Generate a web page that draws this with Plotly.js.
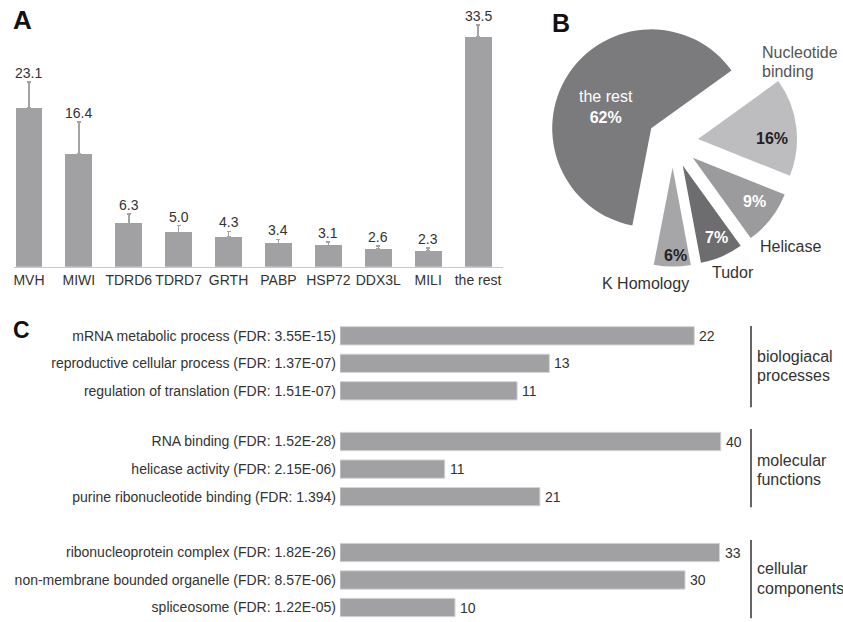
<!DOCTYPE html>
<html>
<head>
<meta charset="utf-8">
<script src="https://cdn.plot.ly/plotly-3.0.1.min.js"></script>
<style>html,body{margin:0;padding:0;background:#fff;}#chart{width:843px;height:622px;}</style>
</head>
<body>
<div id="chart"></div>
<script>
// ---------- DATA ----------
const catsA = ['MVH','MIWI','TDRD6','TDRD7','GRTH','PABP','HSP72','DDX3L','MILI','the rest'];
const valsA = [23.1,16.4,6.3,5.0,4.3,3.4,3.1,2.6,2.3,33.5];
const errA  = [3.8,4.7,1.4,1.0,0.85,0.6,0.5,0.45,0.45,1.7];

const pieLabels = ['the rest','Nucleotide binding','Helicase','Tudor','K Homology'];
const pieVals   = [62,16,9,7,6];
const pieColors = ['#7b7b7d','#bdbdbf','#9b9b9d','#6d6d6f','#a6a6a8'];

const termsBP  = ['mRNA metabolic process (FDR: 3.55E-15)','reproductive cellular process (FDR: 1.37E-07)','regulation of translation (FDR: 1.51E-07)'];
const countsBP = [22,13,11];
const termsMF  = ['RNA binding (FDR: 1.52E-28)','helicase activity (FDR: 2.15E-06)','purine ribonucleotide binding (FDR: 1.394)'];
const countsMF = [40,11,21];
const termsCC  = ['ribonucleoprotein complex (FDR: 1.82E-26)','non-membrane bounded organelle (FDR: 8.57E-06)','spliceosome (FDR: 1.22E-05)'];
const countsCC = [33,30,10];
const groupNames = ['biologiacal processes','molecular functions','cellular components'];

// ---------- helpers ----------
const W = 843, H = 622;
const px = x => x / W;
const py = y => 1 - y / H;
const FONT = 'Liberation Sans, Arial, Helvetica, sans-serif';
const TXT = '#333333';
const BAR = '#a1a1a4';

const traces = [];
// Panel A
traces.push({
  type:'bar', x:catsA, y:valsA, xaxis:'x', yaxis:'y',
  width:0.54, marker:{color:BAR, line:{width:0}},
  error_y:{type:'data', symmetric:false, array:errA, arrayminus:errA.map(()=>0),
           color:'#a3a3a3', thickness:1.5, width:2},
  hoverinfo:'skip'
});
// Panel B
traces.push({
  type:'pie', labels:pieLabels, values:pieVals, sort:false, direction:'clockwise',
  rotation:191, pull:pieVals.map(()=>0.2576),
  marker:{colors:pieColors, line:{width:0}},
  textinfo:'none', hoverinfo:'skip', showlegend:false,
  domain:{x:[px(548.2), px(797.2)], y:[py(266.6), py(17.6)]}
});
// Panel C
const groupsC = [[termsBP,countsBP],[termsMF,countsMF],[termsCC,countsCC]];
const annotations = [];
groupsC.forEach((g,i) => {
  const xa = 'x'+(i+3), ya = 'y'+(i+3);
  traces.push({
    type:'bar', orientation:'h', y:g[0], x:g[1],
    xaxis:xa, yaxis:ya, width:0.665,
    marker:{color:BAR, line:{color:'#d4d4d6', width:1}},
    hoverinfo:'skip'
  });
  g[0].forEach((t,j) => {
    annotations.push({xref:xa, yref:ya, x:g[1][j], y:t, xanchor:'left', yanchor:'middle', xshift:3,
      showarrow:false, text:String(g[1][j]), font:{family:FONT,size:14,color:TXT}});
  });
});

// Panel letters
annotations.push({xref:'paper',yref:'paper',x:px(11),y:py(20),xanchor:'left',yanchor:'middle',text:'<b>A</b>',showarrow:false,font:{family:FONT,size:26,color:'#111'}});
annotations.push({xref:'paper',yref:'paper',x:px(550),y:py(23),xanchor:'left',yanchor:'middle',text:'<b>B</b>',showarrow:false,font:{family:FONT,size:25,color:'#111'}});
annotations.push({xref:'paper',yref:'paper',x:px(11),y:py(330),xanchor:'left',yanchor:'middle',text:'<b>C</b>',showarrow:false,font:{family:FONT,size:23,color:'#111'}});
// Panel A value labels
catsA.forEach((c,i) => {
  annotations.push({xref:'x',yref:'y',x:c,y:valsA[i]+errA[i],yanchor:'bottom',showarrow:false,
    text:valsA[i].toFixed(1), font:{family:FONT,size:14,color:TXT}, borderpad:0});
});
// Panel B labels
const pieTextPos = [[606,107],[772,138],[754,201],[716,238],[675,255]];
const pieTextCol = ['#ffffff','#222222','#ffffff','#ffffff','#222222'];
pieLabels.forEach((l,i) => {
  const t = i === 0 ? l + '<br><b>' + pieVals[i] + '%</b>' : '<b>' + pieVals[i] + '%</b>';
  annotations.push({xref:'paper',yref:'paper',x:px(pieTextPos[i][0]),y:py(pieTextPos[i][1]),
    xanchor:'center',yanchor:'middle',showarrow:false,text:t,align:'center',
    font:{family:FONT,size:16,color:pieTextCol[i]}});
});
const pieOutPos = [null,[760,52.5,'left'],[790,246,'center'],[733,273,'center'],[645.5,283,'center']];
pieLabels.forEach((l,i) => {
  if (!pieOutPos[i]) return;
  const lines = i === 1 ? l.split(' ') : [l];
  lines.forEach((ln,k) => {
    annotations.push({xref:'paper',yref:'paper',x:px(pieOutPos[i][0]),y:py(pieOutPos[i][1] + k*18.7),
      xanchor:pieOutPos[i][2],yanchor:'middle',showarrow:false,text:ln,align:'left',
      font:{family:FONT,size:16,color:i===1?'#555555':TXT}});
  });
});
// Panel C group labels (two lines each)
const groupLabelY = [356.8, 460.2, 568.6];
const groupLineGap = [18.4, 19, 19.6];
groupNames.forEach((n,i) => {
  n.split(' ').forEach((ln,k) => {
    annotations.push({xref:'paper',yref:'paper',x:px(755),y:py(groupLabelY[i] + k*groupLineGap[i]),xanchor:'left',yanchor:'middle',
      showarrow:false,text:ln,align:'left',font:{family:FONT,size:16,color:TXT}});
  });
});

const shapes = [];
const brackets = [[326,407.3],[429,507.3],[540,618.3]];
brackets.forEach(b => shapes.push({type:'line',xref:'paper',yref:'paper',x0:px(751),x1:px(751),y0:py(b[0]),y1:py(b[1]),line:{color:'#333',width:1.5}}));

const hiddenY = {showgrid:false, zeroline:false, showline:false, showticklabels:false, ticks:'', fixedrange:true};
const cDomX = [px(340), px(740)];
const catY = (dom, anchor) => ({domain:dom, anchor:anchor, type:'category', range:[2.5,-0.5], showgrid:false, zeroline:false, showline:false, ticks:'',
  tickfont:{family:FONT,size:14,color:TXT}, ticklabelstandoff:3, automargin:false});
const valX = (rng, anchor) => ({domain:cDomX, anchor:anchor, range:rng, showgrid:false, zeroline:false, showline:false, showticklabels:false, ticks:''});

const layout = {
  width:W, height:H, margin:{l:0,r:0,t:0,b:0}, paper_bgcolor:'#fff', plot_bgcolor:'rgba(0,0,0,0)',
  showlegend:false, font:{family:FONT, color:TXT}, bargap:0,
  xaxis:{domain:[px(14),px(503)], anchor:'y', type:'category', range:[-0.3,9.5], showgrid:false, zeroline:false,
    showline:true, linecolor:'#c8c8c8', linewidth:1.5, ticks:'', tickfont:{family:FONT,size:14,color:TXT}, ticklabelstandoff:0, automargin:false},
  yaxis:Object.assign({domain:[py(266.7), py(19.7)], anchor:'x', range:[0,36]}, hiddenY),
  xaxis3:valX([0,24.84],'y3'), yaxis3:catY([py(404.55),py(322.05)],'x3'),
  xaxis4:valX([0,42.02],'y4'), yaxis4:catY([py(510.45),py(427.75)],'x4'),
  xaxis5:valX([0,34.78],'y5'), yaxis5:catY([py(621.25),py(538.75)],'x5'),
  annotations:annotations, shapes:shapes
};

Plotly.newPlot('chart', traces, layout, {staticPlot:true, displayModeBar:false});
</script>
</body>
</html>
